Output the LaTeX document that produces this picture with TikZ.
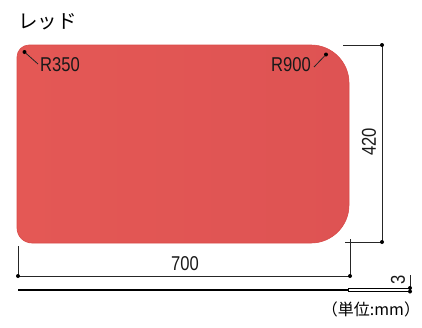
\documentclass[tikz,border=0pt]{standalone}
\usepackage{fontspec}
\setmainfont[FakeStretch=0.83]{Liberation Sans}
\newfontfamily\cjk{Noto Sans CJK JP}
\definecolor{boardleft}{HTML}{E45855}
\definecolor{boardright}{HTML}{DE5353}
\definecolor{boardedge}{HTML}{D94A48}
\tikzset{
  dimline/.style={line width=0.8pt,black!85},
  dimdot/.style={circle,fill=black,inner sep=0pt,minimum size=4pt},
  dimtext/.style={font=\fontsize{20pt}{20pt}\selectfont,text=black!90,inner sep=0pt},
}
\begin{document}
\begin{tikzpicture}[x=1pt,y=-1pt]
\useasboundingbox (0,0) rectangle (422,327);

%Corner points of the dimension lines
\coordinate (TopA) at (343,45);
\coordinate (TopB) at (382,45);
\coordinate (BotA) at (345,242);
\coordinate (BotB) at (382,242);
\coordinate (LeftA) at (18,246);
\coordinate (LeftB) at (18,276);
\coordinate (RightA) at (350,239);
\coordinate (RightB) at (350,276);
\coordinate (ThinA) at (410,275);
\coordinate (ThinB) at (410,288);
\coordinate (ThinC) at (410,291.5);

%Board
\draw[left color=boardleft,right color=boardright,draw=boardedge,line width=0.6pt] (17,57) arc[start angle=180,end angle=270,radius=12]
  -- (311,45) arc[start angle=270,end angle=360,radius=38]
  -- (349,205) arc[start angle=0,end angle=90,radius=38]
  -- (32,243) arc[start angle=90,end angle=180,radius=15] -- cycle;

%Labels
\node[font=\cjk\fontsize{19.5pt}{19.5pt}\selectfont,anchor=west,inner sep=0pt] (name) at (18,22) {レッド};
\node[dimtext,anchor=west] (rsmall) at (40,65) {R350};
\node[dimtext,anchor=east] (rlarge) at (311,65) {R900};
\node[dimtext,rotate=90] (height) at (369,142) {420};
\node[dimtext] (width) at (185,264) {700};
\node[dimtext,rotate=90] (thick) at (398,280) {3};
\node[font=\cjk\fontsize{16pt}{16pt}\selectfont,inner sep=0pt] (unit) at (371,309) {（単位:mm）};

%Radius leaders
\node[dimdot] (dotsmall) at (24.5,52) {};
\node[dimdot] (dotlarge) at (326,54.5) {};
\draw[dimline] (dotsmall) -- (38,64);
\draw[dimline] (dotlarge) -- (314,67);

%Dimension lines
\draw[dimline] (TopA) -- (TopB) -- (BotB) -- (BotA);
\draw[dimline] (LeftA) -- (LeftB) -- (RightB) -- (RightA);
\draw[dimline] (ThinA) -- (ThinC);
\node[dimdot] (d1) at (TopB) {};
\node[dimdot] (d2) at (BotB) {};
\node[dimdot] (d3) at (LeftB) {};
\node[dimdot] (d4) at (RightB) {};
\node[dimdot] (d5) at (ThinB) {};
\node[dimdot] (d6) at (ThinC) {};

%Side view of the board
\draw[line width=0.8pt] (348,288.5) -- (410,288.5) (348,291.5) -- (410,291.5);
\draw[line width=2pt] (18,289.5) -- (349,289.5);
\end{tikzpicture}
\end{document}
